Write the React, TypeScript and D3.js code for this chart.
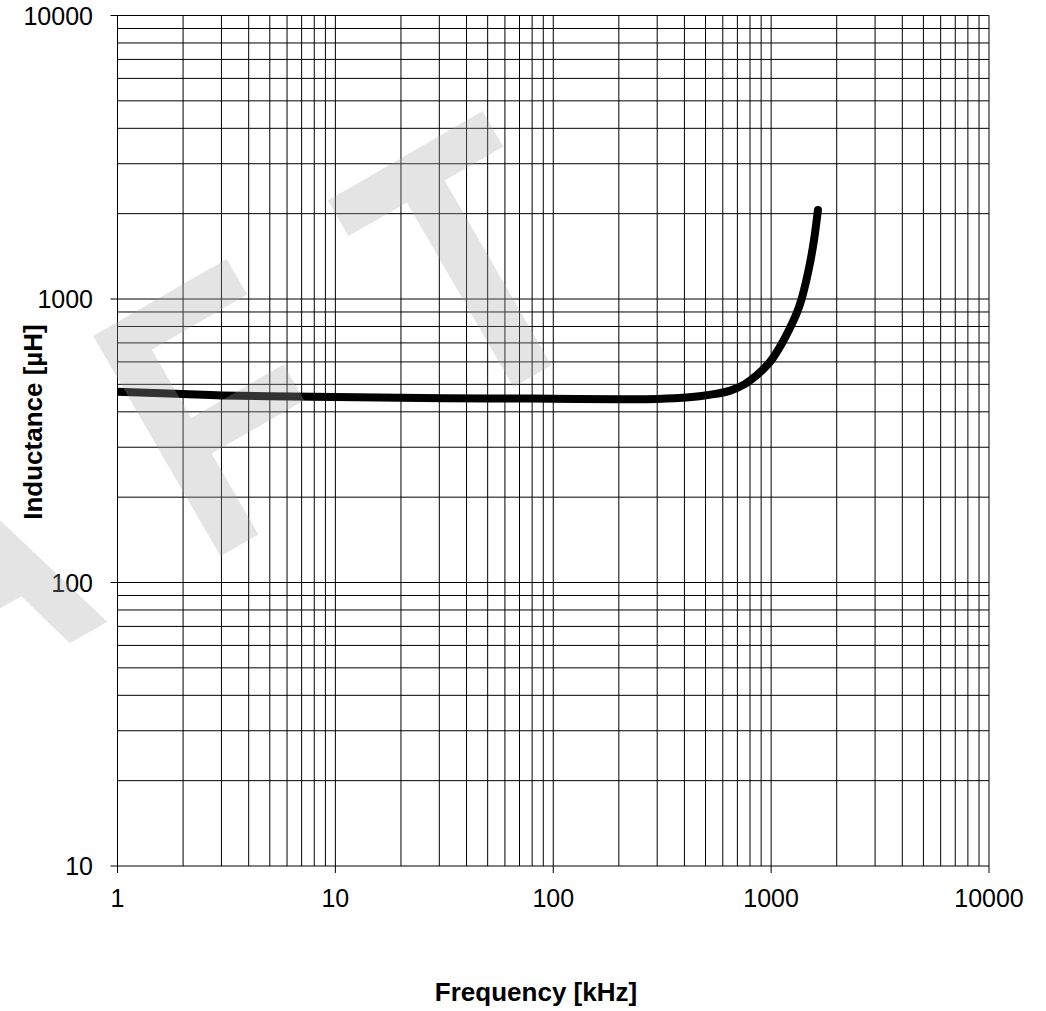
import React from "react";
import * as d3 from "d3";

const W = 1046;
const H = 1011;

// Curve data (frequency in kHz, inductance in µH)
const freq = [1, 2, 3, 5, 10, 20, 50, 100, 200, 300, 420, 520, 650, 760, 850, 960, 1020, 1130, 1220, 1310, 1380, 1460, 1520, 1580, 1640];
const induct = [471, 462, 457, 454, 451, 448, 446, 445, 443, 444, 450, 459, 475, 502, 535, 585, 620, 705, 790, 890, 1000, 1190, 1380, 1650, 2060];

const xTicks = [1, 10, 100, 1000, 10000];
const yTicks = [10, 100, 1000, 10000];
const xTickLabels = ["1", "10", "100", "1000", "10000"];
const yTickLabels = ["10", "100", "1000", "10000"];
const xTitle = "Frequency [kHz]";
const yTitle = "Inductance [µH]";
const watermark = "DRAFT";

const FONT = "'Liberation Sans', Arial, Helvetica, sans-serif";

export default function App() {
  const left = 117.5, right = 989, top = 15.5, bottom = 866;
  const x = d3.scaleLog().domain([1, 10000]).range([left, right]);
  const y = d3.scaleLog().domain([10, 10000]).range([bottom, top]);

  const xGrid: number[] = [];
  for (const d of [1, 10, 100, 1000]) for (let k = 1; k <= 9; k++) xGrid.push(d * k);
  xGrid.push(10000);
  const yGrid: number[] = [];
  for (const d of [10, 100, 1000]) for (let k = 1; k <= 9; k++) yGrid.push(d * k);
  yGrid.push(10000);

  const pts: [number, number][] = freq.map((f, i) => [x(f), y(induct[i])]);
  const line = d3.line<[number, number]>().x(d => d[0]).y(d => d[1]).curve(d3.curveCatmullRom.alpha(0.5));

  return (
    <svg width={W} height={H} style={{ position: "absolute", left: 0, top: 0, background: "#fff" }}>
      <defs>
        <clipPath id="plotClip">
          <rect x={left} y={top - 10} width={right - left} height={bottom - top + 10} />
        </clipPath>
      </defs>
      <rect x={0} y={0} width={W} height={H} fill="#fff" />
      {xGrid.map((v, i) => (
        <line key={"gx" + i} x1={x(v)} x2={x(v)} y1={top} y2={bottom} stroke="#000" strokeWidth={1} />
      ))}
      {yGrid.map((v, i) => (
        <line key={"gy" + i} x1={left} x2={right} y1={y(v)} y2={y(v)} stroke="#000" strokeWidth={1} />
      ))}
      {xTicks.map((v, i) => (
        <line key={"tx" + i} x1={x(v)} x2={x(v)} y1={bottom} y2={bottom + 7} stroke="#000" strokeWidth={1} />
      ))}
      {yTicks.map((v, i) => (
        <line key={"ty" + i} x1={left - 7} x2={left} y1={y(v)} y2={y(v)} stroke="#000" strokeWidth={1} />
      ))}
      {xTicks.map((v, i) => (
        <text key={"lx" + i} x={x(v)} y={907} textAnchor="middle" fontFamily={FONT} fontSize={25} fill="#000">
          {xTickLabels[i]}
        </text>
      ))}
      {yTicks.map((v, i) => (
        <text key={"ly" + i} x={93} y={y(v) + 9} textAnchor="end" fontFamily={FONT} fontSize={25} fill="#000">
          {yTickLabels[i]}
        </text>
      ))}
      <path d={line(pts) || ""} fill="none" stroke="#000" strokeWidth={8} strokeLinecap="round" strokeLinejoin="round" clipPath="url(#plotClip)" />
      <text x={536} y={1001} textAnchor="middle" fontFamily={FONT} fontSize={26} fontWeight="bold" fill="#000">
        {xTitle}
      </text>
      <text transform="translate(42,422) rotate(-90)" x={0} y={0} textAnchor="middle" fontFamily={FONT} fontSize={26} fontWeight="bold" fill="#000">
        {yTitle}
      </text>
      <text
        transform="translate(-632.6,1048.9) rotate(-30) scale(0.82,1)"
        x={0}
        y={0}
        fontFamily={FONT}
        fontSize={370}
        fontWeight="bold"
        fill="rgb(167,167,167)"
        fillOpacity={0.3}
        style={{ letterSpacing: "125px" }}
      >
        {watermark}
      </text>
    </svg>
  );
}
